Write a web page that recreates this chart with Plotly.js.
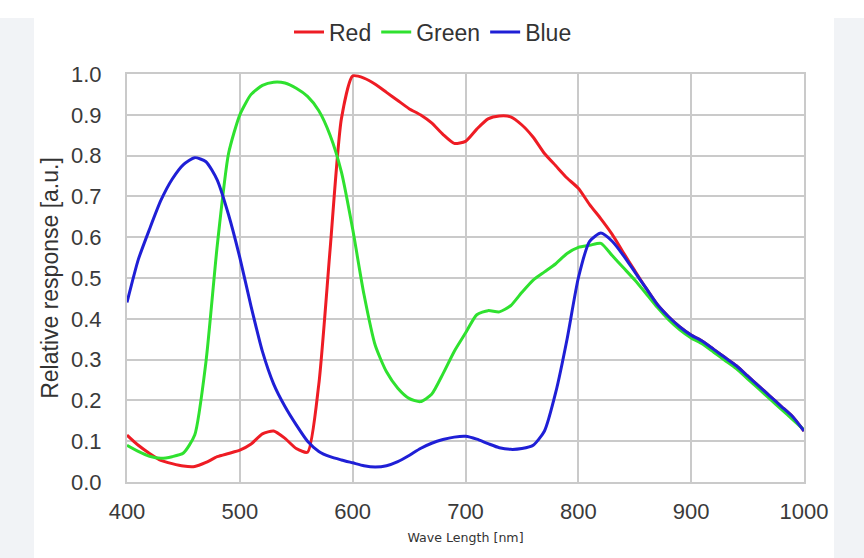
<!DOCTYPE html>
<html>
<head>
<meta charset="utf-8">
<script src="https://cdn.plot.ly/plotly-3.0.1.min.js"></script>
<style>
  html, body { margin: 0; padding: 0; background: #ffffff; }
  #wrap { position: relative; width: 864px; height: 558px; overflow: hidden; }
  .side { position: absolute; top: 18px; bottom: 0; background: #f1f3f6; }
  #chart { position: absolute; left: 0; top: 0; width: 864px; height: 558px; }
</style>
</head>
<body>
<div id="wrap">
  <div class="side" style="left:0; width:34px;"></div>
  <div class="side" style="left:834px; width:30px;"></div>
  <div id="chart"></div>
</div>
<script>
// wavelength [nm], 10 nm steps
var wavelength = [
    400, 410, 420, 430, 440, 450, 460, 470, 480, 490,
    500, 510, 520, 530, 540, 550, 560, 570, 580, 590,
    600, 610, 620, 630, 640, 650, 660, 670, 680, 690,
    700, 710, 720, 730, 740, 750, 760, 770, 780, 790,
    800, 810, 820, 830, 840, 850, 860, 870, 880, 890,
    900, 910, 920, 930, 940, 950, 960, 970, 980, 990,
    1000
]

var red = [
    0.115, 0.090, 0.070, 0.053, 0.045, 0.039, 0.038, 0.048, 0.062, 0.070,
    0.078, 0.093, 0.118, 0.125, 0.107, 0.082, 0.073, 0.240, 0.570, 0.890,
    0.995, 0.990, 0.975, 0.955, 0.935, 0.915, 0.900, 0.880, 0.852, 0.830,
    0.835, 0.865, 0.890, 0.897, 0.895, 0.875, 0.845, 0.805, 0.775, 0.745,
    0.720, 0.680, 0.645, 0.607, 0.562, 0.518, 0.475, 0.435, 0.405, 0.380,
    0.360, 0.345, 0.325, 0.305, 0.285, 0.260, 0.235, 0.210, 0.185, 0.160,
    0.125
]

var green = [
    0.090, 0.075, 0.063, 0.058, 0.062, 0.071, 0.115, 0.295, 0.580, 0.805,
    0.900, 0.950, 0.972, 0.980, 0.978, 0.965, 0.945, 0.910, 0.850, 0.760,
    0.620, 0.460, 0.335, 0.270, 0.230, 0.205, 0.197, 0.215, 0.265, 0.320,
    0.365, 0.410, 0.420, 0.417, 0.432, 0.465, 0.495, 0.515, 0.535, 0.560,
    0.575, 0.580, 0.585, 0.555, 0.525, 0.495, 0.462, 0.428, 0.398, 0.373,
    0.353, 0.338, 0.318, 0.298, 0.278, 0.253, 0.228, 0.203, 0.178, 0.153,
    0.128
]

var blue = [
    0.440, 0.545, 0.620, 0.690, 0.742, 0.778, 0.795, 0.785, 0.740, 0.655,
    0.550, 0.430, 0.320, 0.240, 0.185, 0.140, 0.100, 0.075, 0.062, 0.054,
    0.047, 0.040, 0.037, 0.040, 0.050, 0.065, 0.082, 0.095, 0.104, 0.110,
    0.112, 0.105, 0.094, 0.084, 0.080, 0.082, 0.090, 0.125, 0.220, 0.350,
    0.500, 0.590, 0.610, 0.590, 0.555, 0.515, 0.475, 0.435, 0.405, 0.380,
    0.360, 0.345, 0.325, 0.305, 0.285, 0.260, 0.235, 0.210, 0.185, 0.160,
    0.125
]

var seriesNames = ["Red", "Green", "Blue"]
var seriesValues = [red, green, blue]
var colors = ["#ee1c24", "#2fe12f", "#1f1fd6"]

var xTicks = [400, 500, 600, 700, 800, 900, 1000]
var yTicks = [0, 0.1, 0.2, 0.3, 0.4, 0.5, 0.6, 0.7, 0.8, 0.9, 1.0]

var gridColor = "#cacaca"
var tickFont = { family: "Liberation Sans, Arial, sans-serif", size: 22, color: "#3a3a3a" }

var data = []
for (var i = 0; i < seriesNames.length; i++) {
    data.push({
        x: wavelength,
        y: seriesValues[i],
        name: seriesNames[i],
        type: 'scatter',
        mode: 'lines',
        line: { color: colors[i], width: 3, shape: 'spline', smoothing: 0.6 }
    })
}

var layout = {
    width: 864,
    height: 558,
    paper_bgcolor: 'rgba(0,0,0,0)',
    plot_bgcolor: '#ffffff',
    margin: { l: 127, r: 60, t: 73, b: 76, pad: 0 },
    showlegend: true,
    legend: {
        orientation: 'h',
        x: 0.452,
        xanchor: 'center',
        y: 1.1,
        yanchor: 'middle',
        font: { family: "Liberation Sans, Arial, sans-serif", size: 23, color: "#333333" },
        bgcolor: 'rgba(0,0,0,0)',
        itemwidth: 30,
        tracegroupgap: 0
    },
    xaxis: {
        range: [400, 1000],
        tickvals: xTicks,
        ticks: '',
        ticklabelstandoff: 9,
        tickfont: tickFont,
        showgrid: true,
        gridcolor: gridColor,
        gridwidth: 2,
        zeroline: false,
        showline: true,
        linecolor: gridColor,
        linewidth: 2,
        mirror: true,
        fixedrange: true,
        title: {
            text: "Wave Length [nm]",
            font: { family: "DejaVu Sans, sans-serif", size: 12.6, color: "#333333" },
            standoff: 10
        }
    },
    yaxis: {
        range: [0, 1.0],
        tickvals: yTicks,
        tickformat: '.1f',
        ticks: '',
        ticklabelstandoff: 19,
        tickfont: tickFont,
        showgrid: true,
        gridcolor: gridColor,
        gridwidth: 2,
        zeroline: false,
        showline: true,
        linecolor: gridColor,
        linewidth: 2,
        mirror: true,
        fixedrange: true,
        title: {
            text: "Relative response [a.u.]",
            font: { family: "Liberation Sans, Arial, sans-serif", size: 23, color: "#333333" },
            standoff: 6
        }
    }
}

var config = {
    displayModeBar: false,
    staticPlot: true
}

Plotly.newPlot('chart', data, layout, config)
</script>
</body>
</html>
